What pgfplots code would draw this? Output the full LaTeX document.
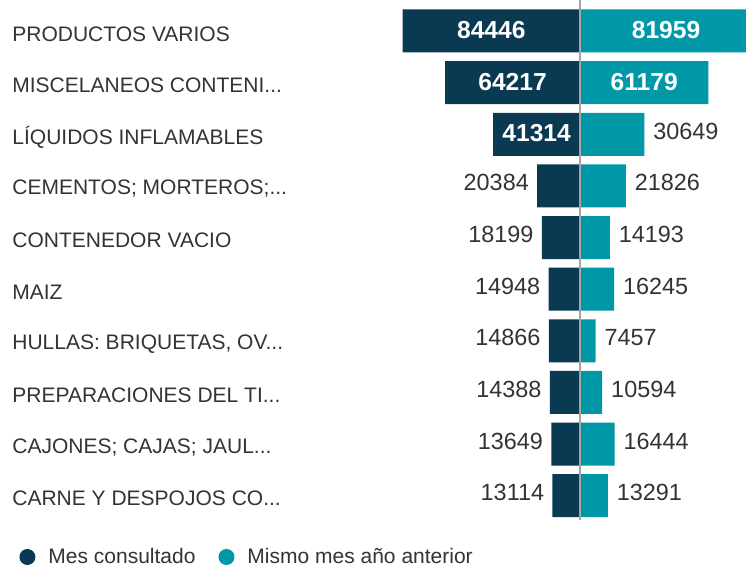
\documentclass[border=0pt]{standalone}
\usepackage{fontspec}
\setmainfont{Liberation Sans}
\usepackage{pgfplots}
\usepackage{pgfplotstable}
\pgfplotsset{compat=1.18}
\definecolor{mesDark}{RGB}{10,58,82}
\definecolor{mesTeal}{RGB}{0,152,167}
\definecolor{txtGray}{RGB}{51,51,51}
\definecolor{midLine}{RGB}{165,165,165}
\newcommand{\dd}{.\kern0pt.\kern0pt.}

% idx 9 = top row
\pgfplotstableread{
idx cur prev
9 84446 81959
8 64217 61179
7 41314 30649
6 20384 21826
5 18199 14193
4 14948 16245
3 14866 7457
2 14388 10594
1 13649 16444
0 13114 13291
}\datatable

\begin{document}
\begin{tikzpicture}
\begin{axis}[
  at={(0,0)}, anchor=south west,
  scale only axis, width=377.15pt, height=283pt,
  xmin=-276.19, xmax=83, ymin=-1.362, ymax=9.6004,
  xbar, bar width=21.5pt, bar shift=0pt,
  axis line style={draw=none}, tick style={draw=none}, major tick length=0pt,
  xtick=\empty, ytick={0,...,9},
  yticklabels={{CARNE Y DESPOJOS CO\dd},{CAJONES; CAJAS; JAUL\dd},{PREPARACIONES DEL TI\dd},
    {HULLAS: BRIQUETAS, OV\dd},{MAIZ},{CONTENEDOR VACIO},{CEMENTOS; MORTEROS;\dd},
    {LÍQUIDOS INFLAMABLES},{MISCELANEOS CONTENI\dd},{PRODUCTOS VARIOS}},
  yticklabel style={anchor=west, inner sep=0pt, xshift=6pt, yshift=-1.5pt, text=txtGray,
    font=\fontsize{10.5}{12}\selectfont},
  legend style={at={(0.0252,0.0159)}, anchor=west, draw=none, fill=none,
    inner sep=0pt, nodes={inner sep=0pt},
    legend columns=2, text=txtGray, font=\fontsize{10.5}{12}\selectfont,
    /tikz/every odd column/.append style={column sep=6.5pt},
    /tikz/every even column/.append style={column sep=11.5pt}},
  legend cell align=left,
]
% left, labels inside
\addplot[fill=mesDark, draw=none, restrict x to domain=-1000:-30,
  point meta=explicit symbolic, nodes near coords, nodes near coords align=center,
  visualization depends on=x \as \rawx,
  nodes near coords style={text=white, font=\bfseries\fontsize{12.3}{14}\selectfont,
    shift={(axis direction cs:{-0.5*(\rawx)},0)}, yshift=0.5pt},
  legend image code/.code={\fill[mesDark] (4pt,0pt) circle (4pt);}]
  table[x expr=-\thisrow{cur}/1000, y=idx, meta=cur] {\datatable};
\addlegendentry{Mes consultado}
% right, labels inside
\addplot[fill=mesTeal, draw=none, restrict x to domain=50:1000,
  point meta=explicit symbolic, nodes near coords, nodes near coords align=center,
  visualization depends on=x \as \rawx,
  nodes near coords style={text=white, font=\bfseries\fontsize{12.3}{14}\selectfont,
    shift={(axis direction cs:{-0.5*(\rawx)},0)}, yshift=0.5pt},
  legend image code/.code={\fill[mesTeal] (4pt,0pt) circle (4pt);}]
  table[x expr=\thisrow{prev}/1000, y=idx, meta=prev] {\datatable};
\addlegendentry{Mismo mes año anterior}
% left, labels outside
\addplot[fill=mesDark, draw=none, restrict x to domain=-30:0, forget plot,
  point meta=explicit symbolic, nodes near coords, nodes near coords align=east,
  nodes near coords style={text=txtGray, inner sep=0pt, xshift=-4pt, yshift=1.5pt,
    font=\fontsize{11.7}{14}\selectfont}]
  table[x expr=-\thisrow{cur}/1000, y=idx, meta=cur] {\datatable};
% right, labels outside
\addplot[fill=mesTeal, draw=none, restrict x to domain=0:50, forget plot,
  point meta=explicit symbolic, nodes near coords, nodes near coords align=west,
  nodes near coords style={text=txtGray, inner sep=0pt, xshift=4.3pt, yshift=1.5pt,
    font=\fontsize{11.7}{14}\selectfont}]
  table[x expr=\thisrow{prev}/1000, y=idx, meta=prev] {\datatable};
% centre line
\addplot[midLine, line width=1.3pt, sharp plot, forget plot] coordinates {(0,-0.471) (0,9.6004)};
\end{axis}
\pgfresetboundingbox
\path (0,0) rectangle (373pt,283pt);
\end{tikzpicture}
\end{document}
